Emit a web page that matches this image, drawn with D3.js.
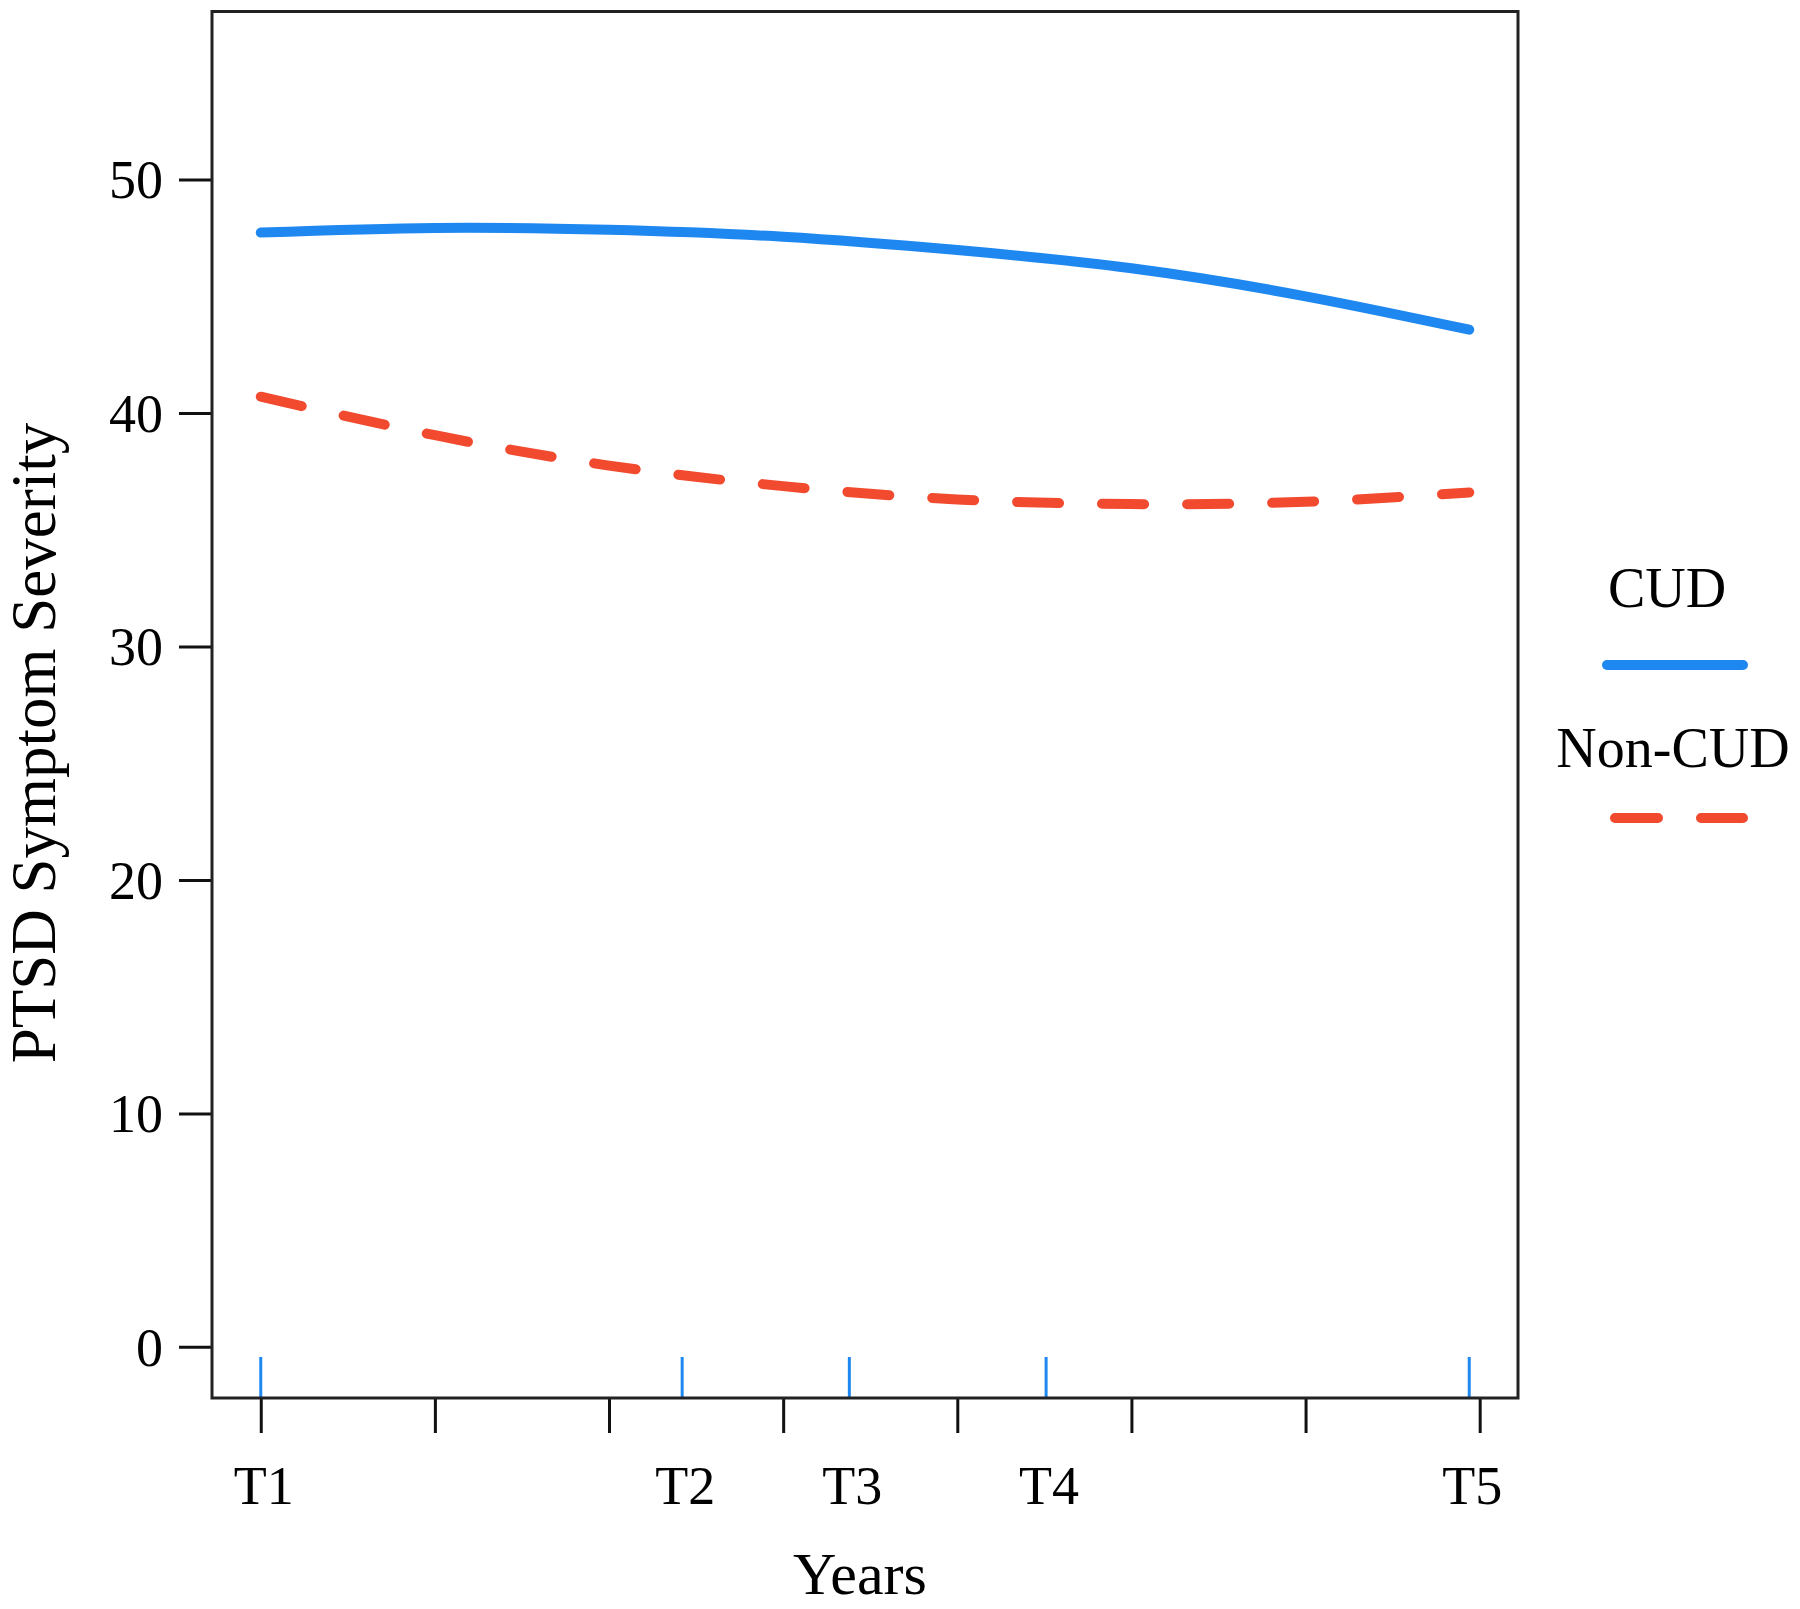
<!DOCTYPE html>
<html>
  <head>
    <meta charset="UTF-8" />
    <title>PTSD Symptom Severity</title>
    <script src="https://cdn.jsdelivr.net/npm/d3@7"></script>
    <style>
      body {
        margin: 0;
        background: #fff;
      }
      svg text {
        font-family: "Liberation Serif", "Times New Roman", serif;
        fill: #000;
      }
    </style>
  </head>
  <body>
    <div class="chart"></div>

    <script>
      // values (years since T1)
      let years = [0, 1, 2, 3, 4, 5, 6, 6.94];
      let cud = [47.73, 47.93, 47.85, 47.55, 46.98, 46.2, 45.0, 43.57];
      let nonCud = [40.7, 39.05, 37.75, 36.87, 36.3, 36.1, 36.2, 36.6];

      let waves = ["T1", "T2", "T3", "T4", "T5"];
      let waveYears = [0, 2.42, 3.38, 4.51, 6.94];
      let yearTicks = [0, 1, 2, 3, 4, 5, 6, 7];
      let yTicks = [0, 10, 20, 30, 40, 50];

      let width = 1800;
      let height = 1609;
      let box = { left: 212, right: 1518, top: 11.5, bottom: 1398 };
      let blue = "#1e88f0";
      let red = "#f24a2e";

      let svg = d3
        .select(".chart")
        .append("svg")
        .attr("width", width)
        .attr("height", height);

      let x = d3.scaleLinear().domain([-0.28, 7.22]).range([box.left, box.right]);
      let y = d3.scaleLinear().domain([-2.19, 57.2]).range([box.bottom, box.top]);

      // y axis
      let yAxis = svg
        .append("g")
        .attr("transform", `translate(${box.left},0)`)
        .call(d3.axisLeft(y).tickValues(yTicks).tickSize(33).tickPadding(16).tickSizeOuter(0));
      yAxis.select(".domain").remove();
      yAxis.selectAll("line").attr("stroke", "#111").attr("stroke-width", 3);
      yAxis
        .selectAll("text")
        .attr("font-size", 54)
        .attr("dy", "0.34em")
        .attr("font-family", "Liberation Serif");

      // x axis: yearly ticks below the frame
      let xAxis = svg
        .append("g")
        .attr("transform", `translate(0,${box.bottom})`)
        .call(d3.axisBottom(x).tickValues(yearTicks).tickSize(35).tickFormat(""));
      xAxis.select(".domain").remove();
      xAxis.selectAll("line").attr("stroke", "#111").attr("stroke-width", 3);

      // blue wave ticks inside the frame
      svg
        .append("g")
        .selectAll("line")
        .data(waveYears)
        .join("line")
        .attr("x1", (d) => x(d))
        .attr("x2", (d) => x(d))
        .attr("y1", box.bottom)
        .attr("y2", box.bottom - 41)
        .attr("stroke", blue)
        .attr("stroke-width", 3);

      svg
        .append("g")
        .selectAll("text")
        .data(waves)
        .join("text")
        .attr("x", (d, i) => x(waveYears[i]) + 3)
        .attr("y", 1504)
        .attr("text-anchor", "middle")
        .attr("font-size", 54)
        .text((d) => d);

      // frame
      svg
        .append("rect")
        .attr("x", box.left)
        .attr("y", box.top)
        .attr("width", box.right - box.left)
        .attr("height", box.bottom - box.top)
        .attr("fill", "none")
        .attr("stroke", "#222")
        .attr("stroke-width", 3);

      // lines
      let line = d3
        .line()
        .x((d, i) => x(years[i]))
        .y((d) => y(d))
        .curve(d3.curveNatural);

      svg
        .append("path")
        .datum(cud)
        .attr("fill", "none")
        .attr("stroke", blue)
        .attr("stroke-width", 10)
        .attr("stroke-linecap", "round")
        .attr("d", line);

      svg
        .append("path")
        .datum(nonCud)
        .attr("fill", "none")
        .attr("stroke", red)
        .attr("stroke-width", 10)
        .attr("stroke-linecap", "round")
        .attr("stroke-dasharray", "42,43")
        .attr("d", line);

      // axis titles
      svg
        .append("text")
        .attr("x", 860)
        .attr("y", 1594)
        .attr("text-anchor", "middle")
        .attr("font-size", 60)
        .text("Years");

      svg
        .append("text")
        .attr("transform", "translate(55,743) rotate(-90)")
        .attr("text-anchor", "middle")
        .attr("font-size", 63)
        .text("PTSD Symptom Severity");

      // legend
      let legend = svg.append("g");
      legend
        .append("text")
        .attr("x", 1667)
        .attr("y", 607)
        .attr("text-anchor", "middle")
        .attr("font-size", 56)
        .text("CUD");
      legend
        .append("line")
        .attr("x1", 1607)
        .attr("x2", 1743)
        .attr("y1", 665)
        .attr("y2", 665)
        .attr("stroke", blue)
        .attr("stroke-width", 10)
        .attr("stroke-linecap", "round");
      legend
        .append("text")
        .attr("x", 1673)
        .attr("y", 767)
        .attr("text-anchor", "middle")
        .attr("font-size", 56)
        .text("Non-CUD");
      legend
        .append("line")
        .attr("x1", 1615)
        .attr("x2", 1743)
        .attr("y1", 818)
        .attr("y2", 818)
        .attr("stroke", red)
        .attr("stroke-width", 10)
        .attr("stroke-linecap", "round")
        .attr("stroke-dasharray", "43,43");
    </script>
  </body>
</html>
